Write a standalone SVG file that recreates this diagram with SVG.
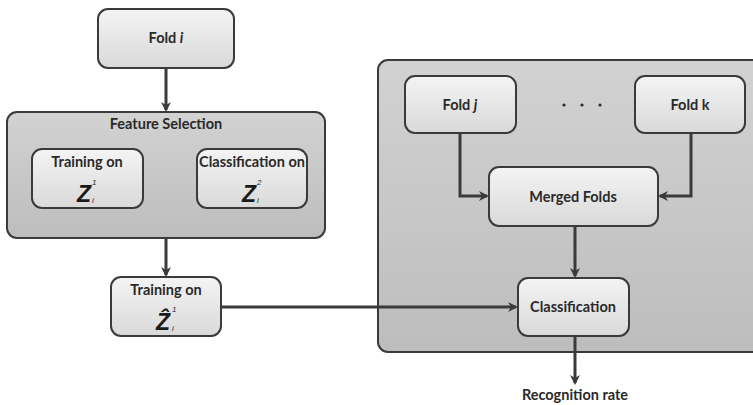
<svg xmlns="http://www.w3.org/2000/svg" width="753" height="405" viewBox="0 0 753 405">
<defs>
<linearGradient id="gBox" x1="0" y1="0" x2="0" y2="1">
<stop offset="0" stop-color="#f4f4f4"/>
<stop offset="1" stop-color="#d9d9d9"/>
</linearGradient>
<linearGradient id="gCont" x1="0" y1="0" x2="0" y2="1">
<stop offset="0" stop-color="#d2d2d2"/>
<stop offset="1" stop-color="#bdbdbd"/>
</linearGradient>
<marker id="ah" markerWidth="10" markerHeight="10" refX="8" refY="5" orient="auto" markerUnits="userSpaceOnUse">
<path d="M0,0 L10,5 L0,10 L3,5 Z" fill="#3a3a3a"/>
</marker>
<style>
.box{fill:url(#gBox);stroke:#3a3a3a;stroke-width:2}
.cont{fill:url(#gCont);stroke:#3a3a3a;stroke-width:2}
.t{font-family:Lato,"Open Sans","Liberation Sans",sans-serif;font-weight:bold;font-size:14.5px;fill:#2a2a2a;text-anchor:middle}
.z{font-family:"Liberation Sans","DejaVu Sans",Arial,sans-serif;font-weight:bold;font-style:italic;font-size:23px;fill:#1a1a1a;text-anchor:middle}
.s{font-family:"Liberation Sans",Arial,sans-serif;font-style:italic;font-size:8px;fill:#2a2a2a}
.d{fill:#2a2a2a}
.c{fill:none;stroke:#3a3a3a;stroke-width:3}
</style>
</defs>

<g id="fold-i">
<rect class="box" x="98" y="9" width="136" height="59" rx="10"/>
<text class="t" x="166" y="43">Fold <tspan font-style="italic">i</tspan></text>
</g>

<g id="feature-selection">
<rect class="cont" x="7" y="112" width="318" height="126" rx="10"/>
<text class="t" x="166" y="129">Feature Selection</text>
</g>

<g id="training-z1">
<rect class="box" x="32" y="149" width="111" height="59" rx="10"/>
<text class="t" x="87" y="167">Training on</text>
<text class="z" x="84" y="202">Z</text>
<text class="s" x="92" y="185">1</text>
<text class="s" x="92" y="203">i</text>
</g>

<g id="classification-z2">
<rect class="box" x="197" y="149" width="110" height="59" rx="10"/>
<text class="t" x="252" y="167">Classification on</text>
<text class="z" x="249" y="202">Z</text>
<text class="s" x="257" y="185">2</text>
<text class="s" x="257" y="203">i</text>
</g>

<g id="training-zhat">
<rect class="box" x="111" y="277" width="110" height="59" rx="10"/>
<text class="t" x="166" y="295">Training on</text>
<text class="z" x="163" y="330">Ẑ</text>
<text class="s" x="172" y="312">1</text>
<text class="s" x="172" y="331">i</text>
</g>

<g id="evaluation-group">
<rect class="cont" x="378" y="60" width="384" height="292" rx="10"/>
</g>

<g id="fold-j">
<rect class="box" x="405" y="76" width="111" height="57" rx="10"/>
<text class="t" x="460" y="110">Fold <tspan font-style="italic">j</tspan></text>
</g>

<g id="dots">
<circle class="d" cx="564" cy="105" r="1.6"/>
<circle class="d" cx="582" cy="105" r="1.6"/>
<circle class="d" cx="600" cy="105" r="1.6"/>
</g>

<g id="fold-k">
<rect class="box" x="635" y="76" width="110" height="57" rx="10"/>
<text class="t" x="690" y="110">Fold k</text>
</g>

<g id="merged-folds">
<rect class="box" x="489" y="167" width="169" height="59" rx="10"/>
<text class="t" x="573" y="202">Merged Folds</text>
</g>

<g id="classification">
<rect class="box" x="518" y="278" width="111" height="58" rx="10"/>
<text class="t" x="573" y="312">Classification</text>
</g>

<g id="recognition-rate">
<text class="t" x="575" y="400">Recognition rate</text>
</g>

<g id="connectors">
<path class="c" d="M166,68 V110" marker-end="url(#ah)"/>
<path class="c" d="M166,238 V275" marker-end="url(#ah)"/>
<path class="c" d="M221,307 H516" marker-end="url(#ah)"/>
<path class="c" d="M460,133 V196 H487" marker-end="url(#ah)"/>
<path class="c" d="M691,133 V196 H660" marker-end="url(#ah)"/>
<path class="c" d="M575,226 V276" marker-end="url(#ah)"/>
<path class="c" d="M575,336 V383" marker-end="url(#ah)"/>
</g>
</svg>
